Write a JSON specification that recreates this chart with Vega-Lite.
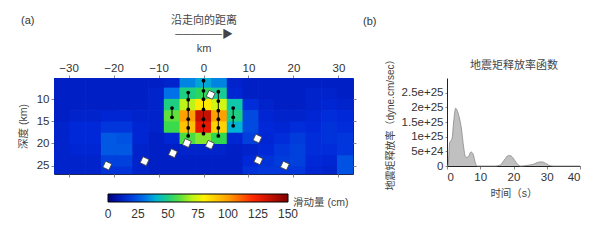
{
  "$schema": "https://vega.github.io/schema/vega-lite/v6.json",
  "padding": {"left": 17, "top": 13, "right": 5, "bottom": 5},
  "background": "white",
  "config": {
    "view": {"stroke": null},
    "font": "Liberation Sans, Noto Sans CJK SC",
    "axis": {"grid": false, "labelFont": "Liberation Sans, Noto Sans CJK SC", "titleFont": "Liberation Sans, Noto Sans CJK SC", "labelColor": "#333", "titleColor": "#444", "titleFontWeight": "normal", "tickColor": "#888", "domainColor": "#333"},
    "title": {"font": "Liberation Sans, Noto Sans CJK SC", "fontWeight": "normal", "color": "#333"},
    "legend": {"labelFont": "Liberation Sans, Noto Sans CJK SC", "titleFont": "Liberation Sans, Noto Sans CJK SC"}
  },
  "datasets": {
    "slip": [
      {"x":-31.5,"d":6.18,"s":12},{"x":-28,"d":6.18,"s":12},{"x":-24.5,"d":6.18,"s":12},{"x":-21,"d":6.18,"s":12},{"x":-17.5,"d":6.18,"s":12},{"x":-14,"d":6.18,"s":12},{"x":-10.5,"d":6.18,"s":12},{"x":-7,"d":6.18,"s":13},{"x":-3.5,"d":6.18,"s":33},{"x":0,"d":6.18,"s":38},{"x":3.5,"d":6.18,"s":33},{"x":7,"d":6.18,"s":13},{"x":10.5,"d":6.18,"s":12},{"x":14,"d":6.18,"s":12},{"x":17.5,"d":6.18,"s":12},{"x":21,"d":6.18,"s":12},{"x":24.5,"d":6.18,"s":12},{"x":28,"d":6.18,"s":12},{"x":31.5,"d":6.18,"s":12},
      {"x":-31.5,"d":8.73,"s":12},{"x":-28,"d":8.73,"s":12},{"x":-24.5,"d":8.73,"s":12},{"x":-21,"d":8.73,"s":12},{"x":-17.5,"d":8.73,"s":12},{"x":-14,"d":8.73,"s":12},{"x":-10.5,"d":8.73,"s":13},{"x":-7,"d":8.73,"s":30},{"x":-3.5,"d":8.73,"s":50},{"x":0,"d":8.73,"s":54},{"x":3.5,"d":8.73,"s":48},{"x":7,"d":8.73,"s":14},{"x":10.5,"d":8.73,"s":12},{"x":14,"d":8.73,"s":12},{"x":17.5,"d":8.73,"s":12},{"x":21,"d":8.73,"s":12},{"x":24.5,"d":8.73,"s":13},{"x":28,"d":8.73,"s":13},{"x":31.5,"d":8.73,"s":12},
      {"x":-31.5,"d":11.28,"s":12},{"x":-28,"d":11.28,"s":12},{"x":-24.5,"d":11.28,"s":12},{"x":-21,"d":11.28,"s":12},{"x":-17.5,"d":11.28,"s":12},{"x":-14,"d":11.28,"s":12},{"x":-10.5,"d":11.28,"s":13},{"x":-7,"d":11.28,"s":50},{"x":-3.5,"d":11.28,"s":70},{"x":0,"d":11.28,"s":82},{"x":3.5,"d":11.28,"s":72},{"x":7,"d":11.28,"s":46},{"x":10.5,"d":11.28,"s":16},{"x":14,"d":11.28,"s":13},{"x":17.5,"d":11.28,"s":12},{"x":21,"d":11.28,"s":12},{"x":24.5,"d":11.28,"s":13},{"x":28,"d":11.28,"s":14},{"x":31.5,"d":11.28,"s":13},
      {"x":-31.5,"d":13.83,"s":12},{"x":-28,"d":13.83,"s":13},{"x":-24.5,"d":13.83,"s":13},{"x":-21,"d":13.83,"s":14},{"x":-17.5,"d":13.83,"s":14},{"x":-14,"d":13.83,"s":13},{"x":-10.5,"d":13.83,"s":13},{"x":-7,"d":13.83,"s":60},{"x":-3.5,"d":13.83,"s":100},{"x":0,"d":13.83,"s":135},{"x":3.5,"d":13.83,"s":100},{"x":7,"d":13.83,"s":50},{"x":10.5,"d":13.83,"s":22},{"x":14,"d":13.83,"s":14},{"x":17.5,"d":13.83,"s":13},{"x":21,"d":13.83,"s":13},{"x":24.5,"d":13.83,"s":14},{"x":28,"d":13.83,"s":16},{"x":31.5,"d":13.83,"s":15},
      {"x":-31.5,"d":16.38,"s":13},{"x":-28,"d":16.38,"s":15},{"x":-24.5,"d":16.38,"s":15},{"x":-21,"d":16.38,"s":18},{"x":-17.5,"d":16.38,"s":18},{"x":-14,"d":16.38,"s":14},{"x":-10.5,"d":16.38,"s":13},{"x":-7,"d":16.38,"s":56},{"x":-3.5,"d":16.38,"s":92},{"x":0,"d":16.38,"s":128},{"x":3.5,"d":16.38,"s":88},{"x":7,"d":16.38,"s":40},{"x":10.5,"d":16.38,"s":22},{"x":14,"d":16.38,"s":15},{"x":17.5,"d":16.38,"s":14},{"x":21,"d":16.38,"s":16},{"x":24.5,"d":16.38,"s":15},{"x":28,"d":16.38,"s":17},{"x":31.5,"d":16.38,"s":16},
      {"x":-31.5,"d":18.93,"s":13},{"x":-28,"d":18.93,"s":15},{"x":-24.5,"d":18.93,"s":15},{"x":-21,"d":18.93,"s":25},{"x":-17.5,"d":18.93,"s":24},{"x":-14,"d":18.93,"s":14},{"x":-10.5,"d":18.93,"s":12},{"x":-7,"d":18.93,"s":14},{"x":-3.5,"d":18.93,"s":58},{"x":0,"d":18.93,"s":64},{"x":3.5,"d":18.93,"s":55},{"x":7,"d":18.93,"s":14},{"x":10.5,"d":18.93,"s":20},{"x":14,"d":18.93,"s":14},{"x":17.5,"d":18.93,"s":16},{"x":21,"d":18.93,"s":19},{"x":24.5,"d":18.93,"s":16},{"x":28,"d":18.93,"s":17},{"x":31.5,"d":18.93,"s":18},
      {"x":-31.5,"d":21.48,"s":13},{"x":-28,"d":21.48,"s":14},{"x":-24.5,"d":21.48,"s":14},{"x":-21,"d":21.48,"s":25},{"x":-17.5,"d":21.48,"s":25},{"x":-14,"d":21.48,"s":13},{"x":-10.5,"d":21.48,"s":12},{"x":-7,"d":21.48,"s":12},{"x":-3.5,"d":21.48,"s":13},{"x":0,"d":21.48,"s":13},{"x":3.5,"d":21.48,"s":13},{"x":7,"d":21.48,"s":12},{"x":10.5,"d":21.48,"s":13},{"x":14,"d":21.48,"s":15},{"x":17.5,"d":21.48,"s":18},{"x":21,"d":21.48,"s":20},{"x":24.5,"d":21.48,"s":16},{"x":28,"d":21.48,"s":16},{"x":31.5,"d":21.48,"s":18},
      {"x":-31.5,"d":24.03,"s":13},{"x":-28,"d":24.03,"s":13},{"x":-24.5,"d":24.03,"s":13},{"x":-21,"d":24.03,"s":20},{"x":-17.5,"d":24.03,"s":20},{"x":-14,"d":24.03,"s":13},{"x":-10.5,"d":24.03,"s":12},{"x":-7,"d":24.03,"s":12},{"x":-3.5,"d":24.03,"s":12},{"x":0,"d":24.03,"s":12},{"x":3.5,"d":24.03,"s":12},{"x":7,"d":24.03,"s":12},{"x":10.5,"d":24.03,"s":15},{"x":14,"d":24.03,"s":17},{"x":17.5,"d":24.03,"s":19},{"x":21,"d":24.03,"s":20},{"x":24.5,"d":24.03,"s":15},{"x":28,"d":24.03,"s":14},{"x":31.5,"d":24.03,"s":24},
      {"x":-31.5,"d":26.58,"s":13},{"x":-28,"d":26.58,"s":13},{"x":-24.5,"d":26.58,"s":13},{"x":-21,"d":26.58,"s":17},{"x":-17.5,"d":26.58,"s":17},{"x":-14,"d":26.58,"s":13},{"x":-10.5,"d":26.58,"s":12},{"x":-7,"d":26.58,"s":12},{"x":-3.5,"d":26.58,"s":12},{"x":0,"d":26.58,"s":12},{"x":3.5,"d":26.58,"s":12},{"x":7,"d":26.58,"s":12},{"x":10.5,"d":26.58,"s":17},{"x":14,"d":26.58,"s":18},{"x":17.5,"d":26.58,"s":18},{"x":21,"d":26.58,"s":18},{"x":24.5,"d":26.58,"s":14},{"x":28,"d":26.58,"s":13},{"x":31.5,"d":26.58,"s":24}
    ],
    "vec": [
      {"g":"a","x":-7,"d":12.0},{"g":"a","x":-7,"d":14.1},
      {"g":"b","x":-3.4,"d":8.5},{"g":"b","x":-3.4,"d":10.1},{"g":"b","x":-3.4,"d":12.3},{"g":"b","x":-3.4,"d":14.5},{"g":"b","x":-3.4,"d":16.5},{"g":"b","x":-3.4,"d":18.3},
      {"g":"c","x":0,"d":5.8},{"g":"c","x":0,"d":8.1},{"g":"c","x":0,"d":10.0},{"g":"c","x":0,"d":12.3},{"g":"c","x":0,"d":14.5},{"g":"c","x":0,"d":16.0},{"g":"c","x":0,"d":17.8},
      {"g":"d","x":3.3,"d":8.3},{"g":"d","x":3.3,"d":10.4},{"g":"d","x":3.3,"d":12.6},{"g":"d","x":3.3,"d":14.5},{"g":"d","x":3.3,"d":16.5},{"g":"d","x":3.3,"d":18.3},
      {"g":"e","x":6.6,"d":12.0},{"g":"e","x":6.6,"d":14.1},{"g":"e","x":6.6,"d":16.0}
    ],
    "sta": [
      {"x":-21.4,"d":25.0},{"x":-13.1,"d":24.0},{"x":-6.8,"d":22.2},{"x":-3.7,"d":19.9},{"x":1.4,"d":20.3},{"x":1.6,"d":9.0},{"x":12.0,"d":18.9},{"x":12.2,"d":23.8},{"x":18.1,"d":25.0}
    ],
    "mr": [
      {"t":0,"v":0},{"t":0.3,"v":0},{"t":0.8,"v":8e24},{"t":1.5,"v":9.2e24},{"t":2.0,"v":1.5e25},{"t":2.6,"v":1.97e25},{"t":3.2,"v":1.85e25},{"t":3.8,"v":1.6e25},{"t":4.3,"v":1.3e25},{"t":5.0,"v":6.5e24},{"t":5.6,"v":3e24},{"t":6.3,"v":3e24},{"t":7.2,"v":4.8e24},{"t":7.8,"v":4.2e24},{"t":8.6,"v":8e23},{"t":9.2,"v":0},{"t":12,"v":0},{"t":14.5,"v":0},{"t":16,"v":3e23},{"t":17.2,"v":2e24},{"t":18.5,"v":3.6e24},{"t":19.3,"v":3.4e24},{"t":20.3,"v":2e24},{"t":21.3,"v":5e23},{"t":22,"v":0},{"t":24,"v":2e23},{"t":26,"v":6e23},{"t":27.5,"v":1.3e24},{"t":28.5,"v":1.4e24},{"t":30,"v":7e23},{"t":31,"v":1e23},{"t":32,"v":0},{"t":40,"v":0}
    ]
  },
  "bounds": "flush",
  "spacing": 94,
  "resolve": {"scale": {"x": "independent", "y": "independent", "color": "independent"}},
  "hconcat": [
    {
      "width": 299,
      "height": 96,
      "title": {"text": "(a)", "anchor": "start", "frame": "group", "dx": -33, "dy": 12, "fontSize": 11, "offset": 0},
      "view": {"stroke": "#1e2850", "strokeWidth": 1},
      "resolve": {"axis": {"x": "independent", "y": "independent"}},
      "layer": [
        {
          "data": {"name": "slip"},
          "mark": {"type": "rect", "width": 16.4, "height": 12, "clip": true, "strokeWidth": 0},
          "encoding": {
            "x": {"field": "x", "type": "quantitative", "scale": {"domain": [-33.25, 33.25], "nice": false, "zero": false},
                  "axis": {"orient": "top", "values": [-30, -20, -10, 0, 10, 20, 30], "title": ["沿走向的距离", "──────▶", "km"], "titleLineHeight": 14, "titleFontSize": 11, "titlePadding": 9, "labelFontSize": 11.5, "tickSize": 3, "domain": false, "labelPadding": 2}},
            "y": {"field": "d", "type": "quantitative", "scale": {"domain": [5.2, 26.9], "nice": false, "zero": false, "reverse": true},
                  "axis": {"values": [10, 15, 20, 25], "title": "深度 (km)", "titleFontSize": 10.5, "labelFontSize": 11.5, "tickSize": 3, "domain": false, "titlePadding": 8, "labelPadding": 2}},
            "color": {"field": "s", "type": "quantitative",
                      "scale": {"domain": [0, 15, 30, 42, 55, 77, 100, 122, 150], "range": ["#000080", "#0028d8", "#0070e8", "#00c0d0", "#30d850", "#ffff00", "#ffa000", "#ff2000", "#800000"], "interpolate": "rgb"},
                      "legend": {"orient": "none", "legendX": 54, "legendY": 116, "direction": "horizontal", "gradientLength": 180, "gradientThickness": 8, "values": [0, 25, 50, 75, 100, 125, 150], "labelOverlap": false, "title": "滑动量 (cm)", "titleOrient": "right", "titleFontSize": 10.5, "titleFontWeight": "normal", "titleColor": "#444", "labelFontSize": 12, "labelColor": "#333", "gradientStrokeColor": "#000", "gradientStrokeWidth": 1, "labelOffset": 7, "titlePadding": 4, "titleBaseline": "top",
                                 "encode": {"labels": {"update": {"align": {"value": "center"}}}}}}
          }
        },
        {
          "data": {"name": "vec"},
          "mark": {"type": "line", "color": "black", "strokeWidth": 0.9},
          "encoding": {
            "x": {"field": "x", "type": "quantitative", "axis": null},
            "y": {"field": "d", "type": "quantitative", "axis": null},
            "detail": {"field": "g"},
            "order": {"field": "d"}
          }
        },
        {
          "data": {"name": "vec"},
          "mark": {"type": "point", "filled": true, "color": "black", "size": 14, "opacity": 1},
          "encoding": {
            "x": {"field": "x", "type": "quantitative", "axis": null},
            "y": {"field": "d", "type": "quantitative", "axis": null}
          }
        },
        {
          "data": {"name": "sta"},
          "mark": {"type": "point", "shape": "square", "filled": true, "fill": "white", "stroke": "#444", "strokeWidth": 0.8, "size": 45, "angle": 25, "opacity": 1},
          "encoding": {
            "x": {"field": "x", "type": "quantitative", "axis": {"orient": "bottom", "labels": false, "title": null, "values": [-30, -20, -10, 0, 10, 20, 30], "tickSize": 3, "domain": false}},
            "y": {"field": "d", "type": "quantitative", "axis": {"orient": "right", "labels": false, "title": null, "values": [10, 15, 20, 25], "tickSize": 3, "domain": false}}
          }
        }
      ]
    },
    {
      "width": 133,
      "height": 88,
      "title": {"text": "(b)", "anchor": "start", "frame": "group", "dx": -84, "dy": -27, "fontSize": 11, "offset": 0},
      "data": {"name": "mr"},
      "resolve": {"axis": {"x": "independent", "y": "independent"}},
      "layer": [
        {
          "mark": {"type": "area", "color": "#c0c0c0", "interpolate": "monotone", "opacity": 1},
          "encoding": {
            "x": {"field": "t", "type": "quantitative", "scale": {"domain": [0, 40], "nice": false},
                  "axis": {"values": [0, 10, 20, 30, 40], "title": "时间（s）", "titleFontSize": 10.5, "labelFontSize": 11.5, "tickSize": 3, "labelPadding": 2, "titlePadding": 6, "domainColor": "#222"}},
            "y": {"field": "v", "type": "quantitative", "scale": {"domain": [0, 3e25], "nice": false},
                  "axis": {"values": [0, 5e24, 1e25, 1.5e25, 2e25, 2.5e25], "labelExpr": "datum.value == 0 ? '0' : format(datum.value, '~e')", "title": "地震矩释放率（dyne.cm/sec）", "titleFontSize": 10, "labelFontSize": 11.5, "tickSize": 2, "titlePadding": 6, "domainColor": "#222"}}
          }
        },
        {
          "mark": {"type": "line", "color": "#888", "strokeWidth": 0.8, "interpolate": "monotone"},
          "encoding": {
            "x": {"field": "t", "type": "quantitative", "axis": {"orient": "top", "labels": false, "ticks": false, "domain": false, "title": "地震矩释放率函数", "titleFontSize": 11, "titlePadding": 8}},
            "y": {"field": "v", "type": "quantitative", "axis": null}
          }
        }
      ]
    }
  ]
}
